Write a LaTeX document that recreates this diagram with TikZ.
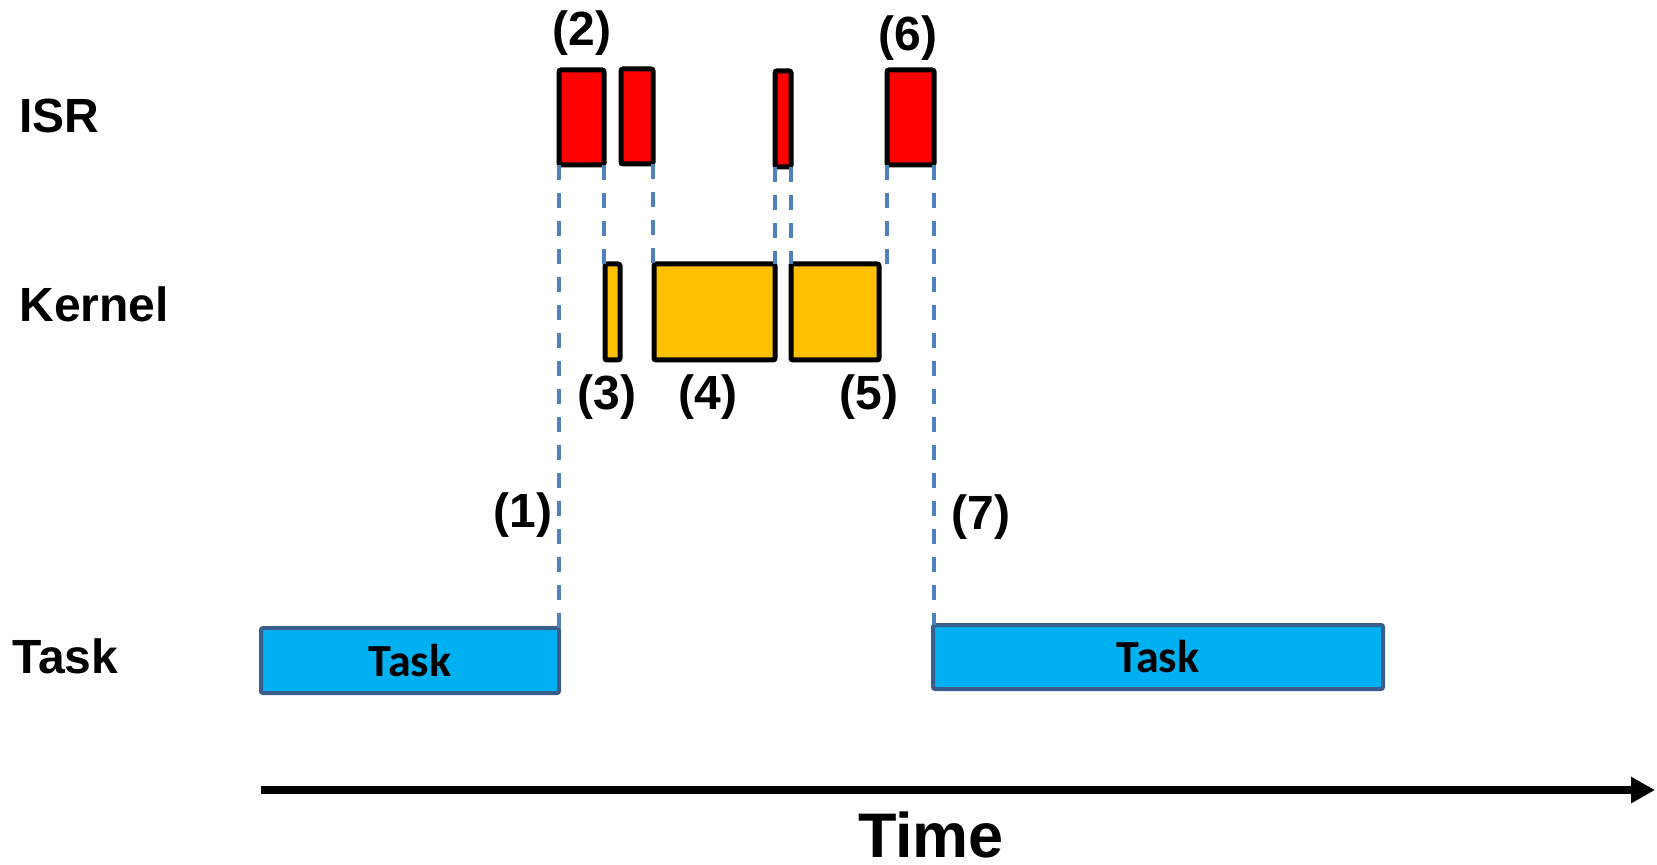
\documentclass[tikz,border=0pt]{standalone}
\usepackage{fontspec}
\setmainfont{Liberation Sans}
\newfontfamily\carl{Carlito}
\usetikzlibrary{arrows.meta}
\definecolor{isrred}{HTML}{FF0000}
\definecolor{kern}{HTML}{FFC000}
\definecolor{taskfill}{HTML}{00B0F0}
\definecolor{taskline}{HTML}{3A5E8C}
\definecolor{dashblue}{HTML}{4F81BD}
\def\px{0.5pt}
\begin{document}
\begin{tikzpicture}[x=0.5pt,y=-0.5pt,
  blk/.style={draw=black,line width=2.5pt,inner sep=0pt,outer sep=0pt,rounded corners=1pt},
  isrbox/.style={blk,fill=isrred},
  kbox/.style={blk,fill=kern},
  taskbox/.style={draw=taskline,fill=taskfill,line width=2pt,inner sep=0pt,outer sep=0pt,rounded corners=1pt,font=\carl\bfseries\fontsize{23pt}{27pt}\selectfont},
  lbl/.style={font=\bfseries\fontsize{24pt}{28pt}\selectfont,inner sep=0pt},
  guide/.style={draw=dashblue,line width=1.6pt,dash pattern=on 7.5pt off 6.5pt},
  axis/.style={draw=black,line width=4pt,-{Triangle[length=12pt,width=12.5pt]}}
]
\useasboundingbox (0,0) rectangle (1657,865);

% ISR boxes
\node[isrbox,minimum width=45*\px,minimum height=95*\px] (i1) at (581.5,117.5) {};
\node[isrbox,minimum width=32*\px,minimum height=95*\px] (i2) at (637,116.5) {};
\node[isrbox,minimum width=16*\px,minimum height=96*\px] (i3) at (783,119) {};
\node[isrbox,minimum width=47*\px,minimum height=95*\px] (i4) at (910.5,117.5) {};

% Kernel boxes
\node[kbox,minimum width=15*\px,minimum height=96*\px] (k1) at (612.5,312) {};
\node[kbox,minimum width=121*\px,minimum height=96*\px] (k2) at (714.5,312) {};
\node[kbox,minimum width=88*\px,minimum height=96*\px] (k3) at (835,312) {};

% Task boxes
\node[taskbox,minimum width=298*\px,minimum height=65*\px] (t1) at (410,660.5) {Task};
\node[taskbox,minimum width=450*\px,minimum height=64*\px] (t2) at (1158,657) {Task};

% guides
\draw[guide] (i1.south west) -- (i1.south west |- t1.north);
\draw[guide] (i1.south east) -- (i1.south east |- k1.north);
\draw[guide] (i2.south east) -- (i2.south east |- k2.north);
\draw[guide] (i3.south west) -- (i3.south west |- k2.north);
\draw[guide] (i3.south east) -- (i3.south east |- k3.north);
\draw[guide] (i4.south west) -- (i4.south west |- k3.north);
\draw[guide] (i4.south east) -- (i4.south east |- t2.north);

% row labels
\node[lbl,anchor=west] (lisr) at (19,116) {ISR};
\node[lbl,anchor=west] (lker) at (19,304) {Kernel};
\node[lbl,anchor=west] (ltask) at (12,656) {Task};

% step labels
\node[lbl] (n1) at (523,515) {(1)};
\node[lbl] (n2) at (582,33.5) {(2)};
\node[lbl] (n3) at (607,397) {(3)};
\node[lbl] (n4) at (708,397) {(4)};
\node[lbl] (n5) at (869,397) {(5)};
\node[lbl] (n6) at (908,38) {(6)};
\node[lbl] (n7) at (981,517) {(7)};

% time axis
\coordinate (ts) at (261,790);
\coordinate (te) at (1655,790);
\draw[axis] (ts) -- (te);
\node[font=\bfseries\fontsize{31.5pt}{36pt}\selectfont,inner sep=0pt] (time) at (931,835) {Time};
\end{tikzpicture}
\end{document}
